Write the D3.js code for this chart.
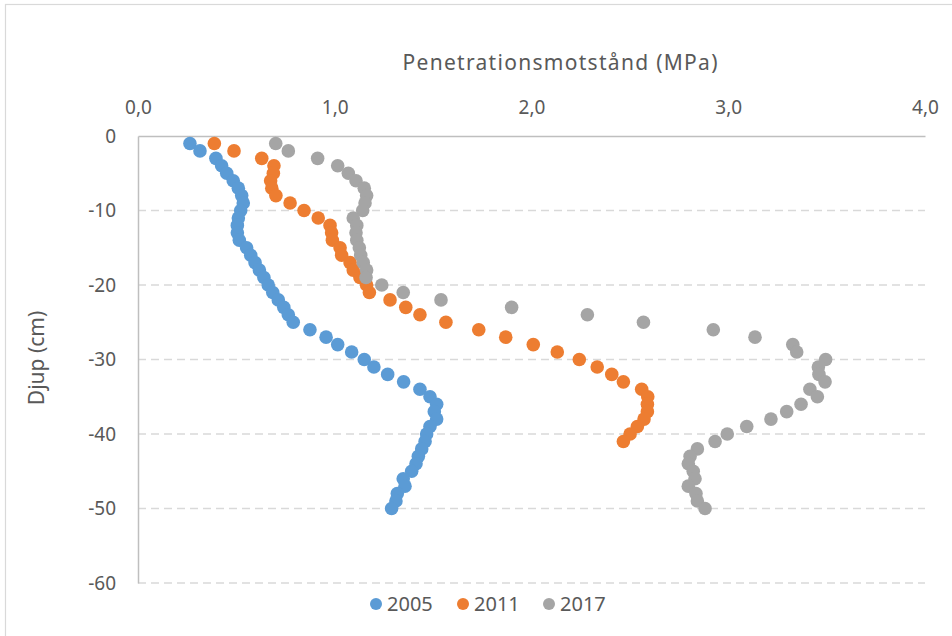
<!DOCTYPE html>
<html>
<head>
<meta charset="utf-8">
<script src="https://cdn.jsdelivr.net/npm/d3@7"></script>
<style>
  body { margin: 0; background: #fff; }
  svg { display: block; font-family: 'Noto Sans', sans-serif; }
</style>
</head>
<body>
<svg></svg>
<script>
// depth in cm (negative down), penetration resistance in MPa
const depths2005 = d3.range(1, 51);
const values2005 = [
  0.264, 0.315, 0.396, 0.425, 0.451, 0.484, 0.510, 0.527, 0.535, 0.522,
  0.510, 0.505, 0.505, 0.515, 0.552, 0.573, 0.595, 0.617, 0.640, 0.662,
  0.685, 0.713, 0.741, 0.764, 0.789, 0.874, 0.956, 1.015, 1.086, 1.150,
  1.199, 1.269, 1.350, 1.433, 1.484, 1.518, 1.506, 1.518, 1.484, 1.467,
  1.459, 1.442, 1.425, 1.413, 1.391, 1.348, 1.357, 1.318, 1.311, 1.289
];

const depths2011 = d3.range(1, 42);
const values2011 = [
  0.388, 0.488, 0.629, 0.691, 0.688, 0.674, 0.680, 0.701, 0.773, 0.844,
  0.916, 0.976, 0.984, 0.988, 1.027, 1.035, 1.078, 1.094, 1.128, 1.162,
  1.176, 1.281, 1.361, 1.433, 1.565, 1.732, 1.869, 2.009, 2.131, 2.243,
  2.334, 2.408, 2.467, 2.560, 2.591, 2.589, 2.589, 2.572, 2.538, 2.501,
  2.467
];

const depths2017 = d3.range(1, 51);
const values2017 = [
  0.700, 0.764, 0.913, 1.015, 1.069, 1.108, 1.150, 1.162, 1.154, 1.142,
  1.094, 1.112, 1.108, 1.112, 1.125, 1.132, 1.145, 1.162, 1.159, 1.239,
  1.348, 1.540, 1.899, 2.284, 2.569, 2.924, 3.136, 3.328, 3.348, 3.495,
  3.458, 3.461, 3.492, 3.415, 3.453, 3.370, 3.297, 3.217, 3.094, 2.995,
  2.933, 2.843, 2.806, 2.797, 2.822, 2.831, 2.797, 2.836, 2.843, 2.882
];

const seriesNames = ['2005', '2011', '2017'];
const seriesColors = ['#5b9bd5', '#ed7d31', '#a5a5a5'];
const xTicks = [0, 1, 2, 3, 4];
const yTicks = [0, -10, -20, -30, -40, -50, -60];

const series = [
  { name: seriesNames[0], color: seriesColors[0], points: depths2005.map((d, i) => ({ depth: -d, value: values2005[i] })) },
  { name: seriesNames[1], color: seriesColors[1], points: depths2011.map((d, i) => ({ depth: -d, value: values2011[i] })) },
  { name: seriesNames[2], color: seriesColors[2], points: depths2017.map((d, i) => ({ depth: -d, value: values2017[i] })) }
];

const width = 952;
const height = 636;
const plotLeft = 138;
const plotRight = 925;
const plotTop = 136;
const plotBottom = 583;
const textColor = '#595959';

const svg = d3.select('svg')
              .attr('width', width)
              .attr('height', height);

// chart border
svg.append('rect')
    .attr('x', 5.5)
    .attr('y', 4.5)
    .attr('width', 960)
    .attr('height', 700)
    .attr('fill', 'none')
    .attr('stroke', '#d9d9d9')
    .attr('stroke-width', 1.2);

const xScale = d3.scaleLinear()
                 .domain([0, 4])
                 .range([plotLeft, plotRight]);

const yScale = d3.scaleLinear()
                 .domain([-60, 0])
                 .range([plotBottom, plotTop]);

const comma = (v) => v.toFixed(1).replace('.', ',');

// horizontal dashed gridlines
svg.append('g')
  .selectAll('line')
  .data(yTicks.filter((t) => t !== 0))
  .enter()
  .append('line')
    .attr('x1', plotLeft)
    .attr('x2', plotRight)
    .attr('y1', (d) => yScale(d))
    .attr('y2', (d) => yScale(d))
    .attr('stroke', '#d9d9d9')
    .attr('stroke-width', 1.3)
    .attr('stroke-dasharray', '8,5');

// top x axis
const xAxis = d3.axisTop(xScale)
                .tickValues(xTicks)
                .tickFormat(comma)
                .tickSize(0)
                .tickPadding(22);

const xG = svg.append('g')
    .attr('transform', `translate(0, ${plotTop})`)
    .call(xAxis);
xG.select('.domain').attr('stroke', '#bfbfbf').attr('stroke-width', 1.5);
xG.selectAll('text')
    .attr('fill', textColor)
    .style('font-size', '19px')
    .style('font-family', "'Noto Sans', sans-serif");

// left y axis (plain hyphen, like the original)
const yAxis = d3.axisLeft(yScale)
                .tickValues(yTicks)
                .tickFormat((d) => String(d))
                .tickSize(0)
                .tickPadding(22);

const yG = svg.append('g')
    .attr('transform', `translate(${plotLeft}, 0)`)
    .call(yAxis);
yG.select('.domain').attr('stroke', '#bfbfbf').attr('stroke-width', 1.5);
yG.selectAll('text')
    .attr('fill', textColor)
    .style('font-size', '19px')
    .style('font-family', "'Noto Sans', sans-serif");

// points
series.forEach((s) => {
  svg.append('g')
    .selectAll('circle')
    .data(s.points)
    .enter()
    .append('circle')
      .attr('cx', (d) => xScale(d.value))
      .attr('cy', (d) => yScale(d.depth))
      .attr('r', 6.8)
      .attr('fill', s.color);
});

// axis titles
svg.append('text')
    .text('Penetrationsmotstånd (MPa)')
    .attr('x', 560)
    .attr('y', 70)
    .attr('fill', textColor)
    .attr('textLength', 315)
    .attr('lengthAdjust', 'spacing')
    .style('font-size', '21px')
    .style('text-anchor', 'middle');

svg.append('text')
    .text('Djup (cm)')
    .attr('x', -358)
    .attr('y', 44)
    .attr('transform', 'rotate(-90)')
    .attr('fill', textColor)
    .style('font-size', '21px')
    .style('text-anchor', 'middle');

// legend
const legendX = [376, 463, 549];
const legend = svg.append('g')
  .selectAll('g')
  .data(series)
  .enter()
  .append('g')
    .attr('transform', (d, i) => `translate(${legendX[i]}, 604)`);

legend.append('circle')
    .attr('r', 6)
    .attr('fill', (d) => d.color);

legend.append('text')
    .text((d) => d.name)
    .attr('x', 11)
    .attr('y', 7)
    .attr('fill', textColor)
    .style('font-size', '20px');
</script>
</body>
</html>
